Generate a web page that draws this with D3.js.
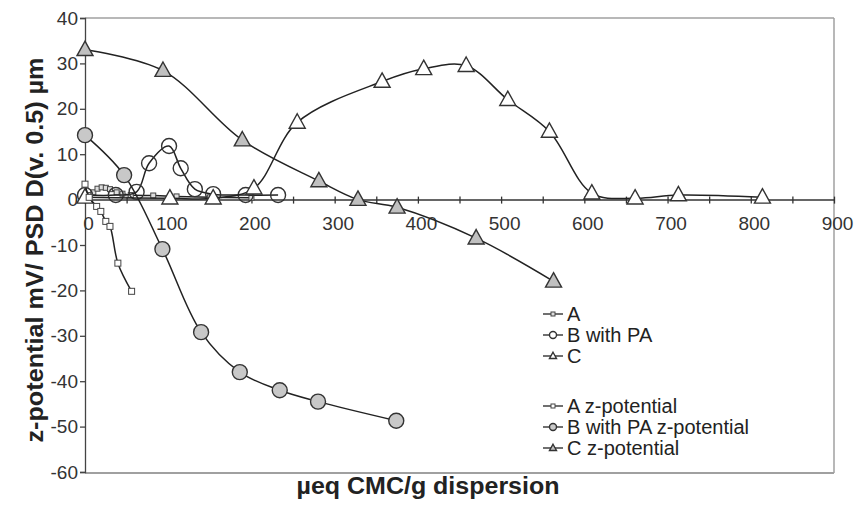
<!DOCTYPE html>
<html><head><meta charset="utf-8">
<script src="https://cdn.jsdelivr.net/npm/d3@7"></script>
<style>body{margin:0;background:#fff;}svg{display:block;font-family:"Liberation Sans",Arial,sans-serif;}</style>
</head><body><svg id="c" width="860" height="505"></svg>
<script>
// ---- data ----
const xTicks = [0,100,200,300,400,500,600,700,800,900];
const yTicks = [40,30,20,10,0,-10,-20,-30,-40,-50,-60];
const seriesNames = ["A","B with PA","C","A z-potential","B with PA z-potential","C z-potential"];
const A_x   = [0,5,10,15,20,25,30,38,45,55,82,110,150,200];
const A_y   = [0.5,1.0,1.6,2.4,2.7,2.6,2.3,1.6,1.3,1.0,0.9,0.7,0.5,0.4];
const B_x   = [0,37,62,77,101,115,132,154,193,232];
const B_y   = [1.0,1.0,1.7,8.0,11.8,6.9,2.3,1.2,1.0,1.0];
const C_x   = [0,102,154,203,255,357,407,458,508,558,609,661,713,814];
const C_y   = [0.5,0.3,0.3,2.5,17.0,26.0,28.8,29.5,22.0,15.0,1.4,0.3,1.0,0.5];
const Az_x  = [0,5,14,19,25,30,39.5,56];
const Az_y  = [3.4,0.5,-1.5,-2.6,-4.8,-5.9,-14.0,-20.2];
const Bz_x  = [0,47,93,139.5,186,234,280,374];
const Bz_y  = [14.2,5.4,-10.9,-29.2,-38.0,-42.0,-44.5,-48.7];
const Cz_x  = [0,93.7,189,281,328,375,470,563];
const Cz_y  = [33.0,28.4,13.1,4.1,0.0,-1.7,-8.5,-18.0];

const svg = d3.select("#c");
const L=85, R=834, T=18, B=472;
const x = d3.scaleLinear().domain([0,900]).range([L,R]);
const y = d3.scaleLinear().domain([-60,40]).range([B,T]);

// frame
svg.append("line").attr("x1",L).attr("x2",R).attr("y1",T).attr("y2",T).attr("stroke","#a0a0a0").attr("stroke-width",1.5);
svg.append("line").attr("x1",R).attr("x2",R).attr("y1",T).attr("y2",B+1).attr("stroke","#a0a0a0").attr("stroke-width",1.5);
svg.append("line").attr("x1",L).attr("x2",R).attr("y1",B+1).attr("y2",B+1).attr("stroke","#a0a0a0").attr("stroke-width",2);

// y axis
const yAx = svg.append("g").attr("transform",`translate(${L},0)`)
  .call(d3.axisLeft(y).tickValues(yTicks).tickSize(5).tickPadding(2).tickFormat(d => String(d)));
yAx.selectAll("path,line").attr("stroke","#444").attr("stroke-width",1.3);
yAx.selectAll("text").attr("font-size",19).attr("fill","#333").attr("font-family","Liberation Sans, Arial, sans-serif");

// x axis at y=0
const xAx = svg.append("g").attr("transform",`translate(0,${y(0)})`)
  .call(d3.axisBottom(x).tickValues(d3.range(0,901,50)).tickSize(0).tickFormat(d => d%100===0 ? String(d) : ""));
xAx.select("path").attr("stroke","#333").attr("stroke-width",1.5);
xAx.selectAll(".tick line").attr("y1",-3).attr("y2",4).attr("stroke","#333").attr("stroke-width",1.3);
xAx.selectAll("text").attr("font-size",19).attr("fill","#333").attr("y",30).attr("dy",0).attr("dx",3)
  .attr("font-family","Liberation Sans, Arial, sans-serif");

// titles
svg.append("text").attr("x",428).attr("y",494).attr("text-anchor","middle").attr("font-weight","bold")
  .attr("font-size",23).attr("fill","#222").attr("textLength",263).attr("lengthAdjust","spacingAndGlyphs")
  .text("µeq CMC/g dispersion");
svg.append("text").attr("transform","translate(43,250) rotate(-90)").attr("text-anchor","middle").attr("font-weight","bold")
  .attr("font-size",23).attr("fill","#222").attr("textLength",385).attr("lengthAdjust","spacingAndGlyphs")
  .text("z-potential mV/ PSD D(v. 0.5) µm");

const line = d3.line().x(d=>x(d[0])).y(d=>y(d[1])).curve(d3.curveCatmullRom.alpha(0.5));
const zip = (a,b)=>a.map((v,i)=>[v,b[i]]);

function marker(g, type, fill, px, py, s){
  if(type==="sq"){
    g.append("rect").attr("x",px-s/2).attr("y",py-s/2).attr("width",s).attr("height",s)
      .attr("fill",fill).attr("stroke","#444").attr("stroke-width",1);
  } else if(type==="ci"){
    g.append("circle").attr("cx",px).attr("cy",py).attr("r",s/2).attr("fill",fill).attr("stroke","#333").attr("stroke-width",1.4);
  } else {
    const h=s*0.9;
    g.append("path").attr("d",`M${px},${py-h*0.6}L${px+s/2},${py+h*0.4}L${px-s/2},${py+h*0.4}Z`)
      .attr("fill",fill).attr("stroke","#333").attr("stroke-width",1.4);
  }
}

const series = [
  {n:seriesNames[0], d:zip(A_x,A_y),  t:"sq", f:"#ddd",    s:5},
  {n:seriesNames[1], d:zip(B_x,B_y),  t:"ci", f:"none",    s:15},
  {n:seriesNames[2], d:zip(C_x,C_y),  t:"tr", f:"#fff",    s:16},
  {n:seriesNames[3], d:zip(Az_x,Az_y),t:"sq", f:"#fff",    s:6},
  {n:seriesNames[4], d:zip(Bz_x,Bz_y),t:"ci", f:"#c8c8c8", s:15},
  {n:seriesNames[5], d:zip(Cz_x,Cz_y),t:"tr", f:"#c0c0c0", s:16}
];
series.forEach(sr=>{
  const g = svg.append("g");
  g.append("path").attr("d",line(sr.d)).attr("fill","none").attr("stroke","#222").attr("stroke-width",1.5);
  sr.d.forEach(p=>marker(g,sr.t,sr.f,x(p[0]),y(p[1]),sr.s));
});

// legend
const legY = [314,335,356,406,427,448];
const lg = svg.append("g");
series.forEach((sr,i)=>{
  lg.append("line").attr("x1",543).attr("x2",563).attr("y1",legY[i]).attr("y2",legY[i]).attr("stroke","#222").attr("stroke-width",1.3);
  marker(lg,sr.t,sr.f==="none"?"#fff":sr.f,553,legY[i],sr.t==="sq"?4:7);
  lg.append("text").attr("x",567).attr("y",legY[i]).attr("dy","0.35em").attr("font-size",20).attr("fill","#222").text(sr.n);
});
</script></body></html>
